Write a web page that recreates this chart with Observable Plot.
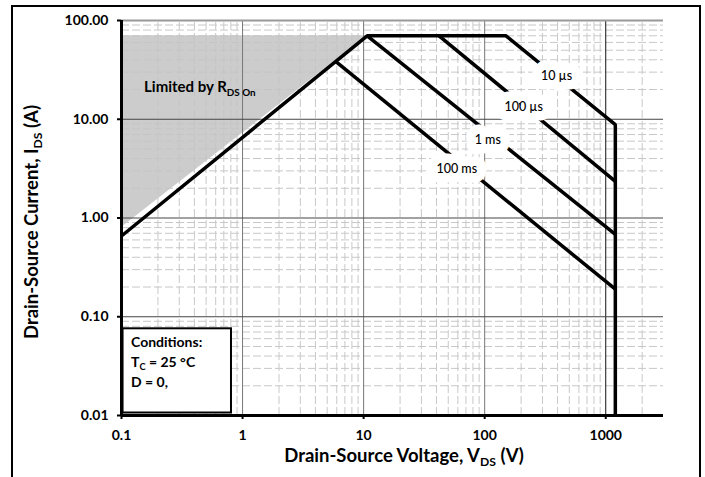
<!DOCTYPE html>
<html><head><meta charset="utf-8">
<script src="https://cdn.jsdelivr.net/npm/d3@7"></script>
<script src="https://cdn.jsdelivr.net/npm/@observablehq/plot@0.6"></script>
<style>
html,body{margin:0;padding:0;background:#fff;overflow:hidden;}
#wrap{position:relative;width:705px;height:477px;}
#frame{position:absolute;left:11px;top:5px;width:690px;height:540px;border:2px solid #000;box-sizing:border-box;pointer-events:none;}
</style></head><body><div id="wrap"><div id="chart"></div><div id="frame"></div></div>
<script>
// ---- data ----
const xTicks = [0.1, 1, 10, 100, 1000];
const xTickLabels = ["0.1", "1", "10", "100", "1000"];
const yTicks = [0.01, 0.1, 1, 10, 100];
const yTickLabels = ["0.01", "0.10", "1.00", "10.00", "100.00"];

// SOA boundary: RDS(on) limit, current limit, 10 µs, breakdown voltage
const outerV = [0.1, 10.7, 150, 1200, 1200];
const outerI = [0.657, 70, 70, 8.8, 0.01];
// 100 µs
const us100V = [42, 1200];
const us100I = [70, 2.35];
// 1 ms
const ms1V = [10.7, 1200];
const ms1I = [70, 0.684];
// 100 ms
const ms100V = [5.87, 1200];
const ms100I = [38.5, 0.19];

// pulse labels
const pulseLabels = ["10 µs", "100 µs", "1 ms", "100 ms"];
const pulseLabelV = [392, 210, 106, 58.8];
const pulseLabelI = [27.1, 13.2, 6.1, 3.1];

// shaded "limited by RDS on" region
const shadeV = [0.1, 10.7];
const shadeLow = [0.8, 70];
const shadeHigh = [70, 70];

// annotation anchors (data units)
const limitedAt = [0.155, 21.0];
const condBoxV = [0.103, 0.81];
const condBoxI = [0.0106, 0.0755];
const condTextV = 0.121;
const condTextI = [0.0549, 0.0344, 0.0216];

// grid values
const minorX = [];
for (const d of [0.1, 1, 10, 100, 1000]) for (let k = 2; k <= 9; k++) { const v = +(d * k).toPrecision(3); if (v < 3000) minorX.push(v); }
const minorY = [];
for (const d of [0.01, 0.1, 1, 10]) for (let k = 2; k <= 9; k++) minorY.push(+(d * k).toPrecision(3));
const majorX = [1, 10, 100];
const majorY = [0.1, 1, 10];

const FONT = "Lato, 'Open Sans', sans-serif";
const toRows = (V, I) => V.map((v, i) => ({v, i: I[i]}));
const shadeRows = shadeV.map((v, k) => ({v, lo: shadeLow[k], hi: shadeHigh[k]}));
const labelRows = pulseLabels.map((t, k) => ({t, v: pulseLabelV[k], i: pulseLabelI[k]}));

const lineOpts = {x: "v", y: "i", stroke: "black", strokeWidth: 3.5, strokeLinejoin: "miter", strokeLinecap: "butt"};

const plot = Plot.plot({
  width: 705, height: 477,
  marginLeft: 121, marginRight: 42, marginTop: 20, marginBottom: 62,
  x: {type: "log", domain: [0.1, 3000]},
  y: {type: "log", domain: [0.01, 100]},
  style: {fontFamily: FONT, background: "transparent"},
  marks: [
    Plot.ruleX(minorX, {y1: 0.01, y2: 100, stroke: "#c8c8c8", strokeWidth: 1, strokeDasharray: "8,3"}),
    Plot.ruleY(minorY, {x1: 0.1, x2: 3000, stroke: "#c8c8c8", strokeWidth: 1, strokeDasharray: "8,3"}),
    Plot.areaY(shadeRows, {x: "v", y1: "lo", y2: "hi", fill: "#c4c4c4", fillOpacity: 0.86}),
    Plot.ruleX(majorX, {y1: 0.01, y2: 100, stroke: "#777", strokeWidth: 1}),
    Plot.ruleX([1000], {y1: 0.01, y2: 100, stroke: "#111", strokeWidth: 1}),
    Plot.ruleY(majorY, {x1: 0.1, x2: 3000, stroke: "#444", strokeWidth: 1}),
    Plot.ruleY([100], {x1: 0.1, x2: 3000, stroke: "#999", strokeWidth: 2}),
    Plot.line(toRows(outerV, outerI), lineOpts),
    Plot.line(toRows(us100V, us100I), lineOpts),
    Plot.line(toRows(ms1V, ms1I), lineOpts),
    Plot.line(toRows(ms100V, ms100I), lineOpts),
    Plot.text(labelRows, {x: "v", y: "i", text: "t", fill: "black", stroke: "white", strokeWidth: 19, strokeLinejoin: "round", fontSize: 12.5, fontWeight: 500}),
    Plot.rect([0], {x1: condBoxV[0], x2: condBoxV[1], y1: condBoxI[0], y2: condBoxI[1], fill: "white", stroke: "black", strokeWidth: 2}),
    Plot.ruleX([0.1], {y1: 0.01, y2: 100, stroke: "black", strokeWidth: 3}),
    Plot.ruleY([0.01], {x1: 0.1, x2: 3000, stroke: "black", strokeWidth: 3}),
    Plot.axisX(xTicks, {tickFormat: d => xTickLabels[xTicks.indexOf(d)], tickSize: 4, tickPadding: 11, strokeWidth: 2, fontSize: 14, fontWeight: "bold", label: null}),
    Plot.axisY(yTicks, {tickFormat: d => yTickLabels[yTicks.indexOf(d)], tickSize: 4, tickPadding: 9, strokeWidth: 2, fontSize: 14, fontWeight: "bold", label: null})
  ]
});
document.getElementById("chart").appendChild(plot);

const sx = plot.scale("x"), sy = plot.scale("y");
const svg = d3.select(plot);

function rich(x, y, parts, o) {
  const size = o.size;
  const t = svg.append("text")
    .attr("font-family", FONT).attr("font-size", size).attr("font-weight", o.weight || "bold")
    .attr("text-anchor", o.anchor || "start").attr("fill", "black");
  if (o.rotate) t.attr("transform", `translate(${x},${y}) rotate(${o.rotate})`).attr("x", 0).attr("y", 0.36 * size);
  else t.attr("x", x).attr("y", y + 0.36 * size);
  const sub = 0.22 * size;
  parts.forEach(p => {
    const s = t.append("tspan").text(p.t);
    if (p.sub) s.attr("font-size", 0.66 * size).attr("dy", sub);
    else if (p.after) s.attr("dy", -sub);
  });
  return t;
}
function parse(str) { // "A_{B}C" -> parts
  const parts = []; const re = /_\{([^}]*)\}/g; let last = 0, m, prevSub = false;
  while ((m = re.exec(str))) {
    if (m.index > last) { parts.push({t: str.slice(last, m.index), after: prevSub}); prevSub = false; }
    parts.push({t: m[1], sub: true}); prevSub = true; last = re.lastIndex;
  }
  if (last < str.length) parts.push({t: str.slice(last), after: prevSub});
  return parts;
}

// axis titles
rich(404, 455, parse("Drain-Source Voltage, V_{DS} (V)"), {size: 18.5, anchor: "middle"});
rich(31, 222, parse("Drain-Source Current, I_{DS} (A)"), {size: 18.5, anchor: "middle", rotate: -90});
// annotation
rich(sx.apply(limitedAt[0]), sy.apply(limitedAt[1]), parse("Limited by R_{DS On}"), {size: 15});
const condLines = ["Conditions:", "T_{C} = 25 °C", "D = 0,"];
condLines.forEach((s, k) => rich(sx.apply(condTextV), sy.apply(condTextI[k]), parse(s), {size: 14}));
</script></body></html>
